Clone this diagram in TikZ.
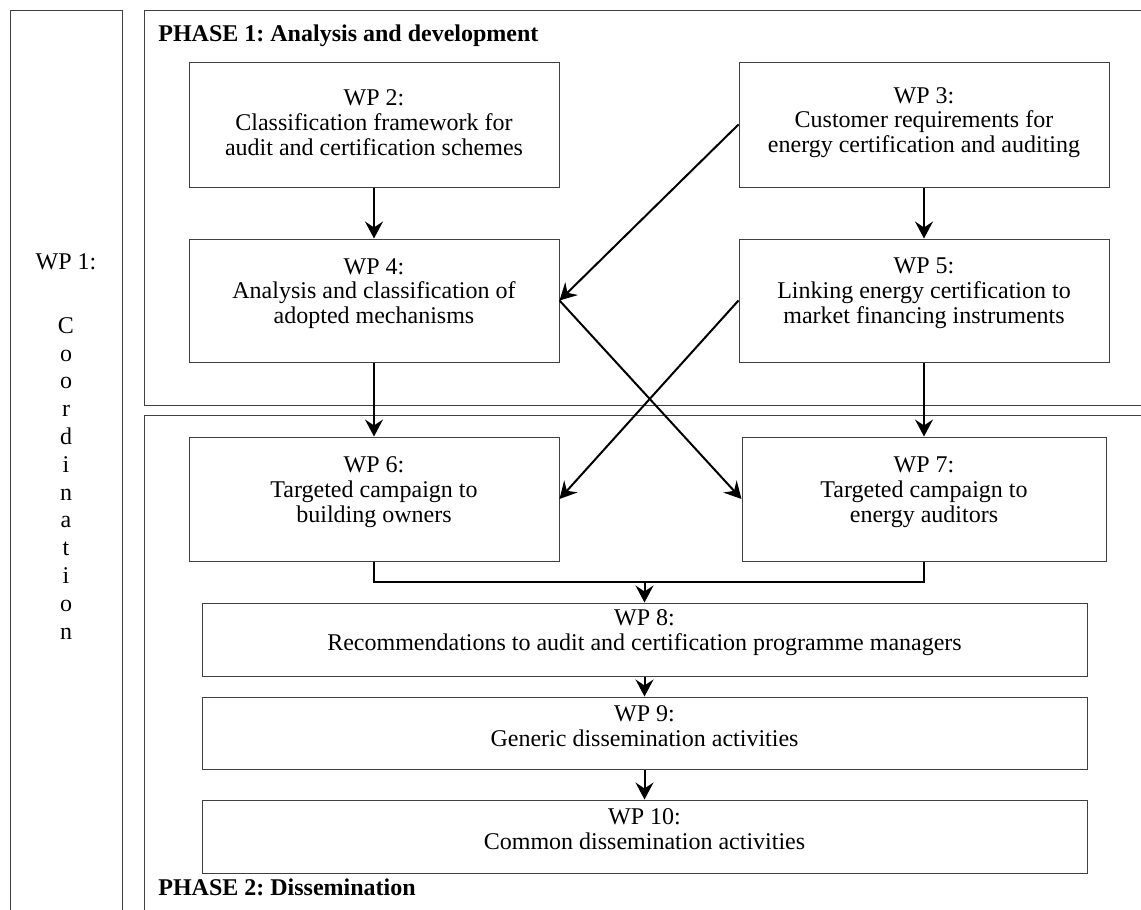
\documentclass[tikz,border=0pt]{standalone}
\usepackage{fontspec}
\setmainfont{Liberation Serif}
\usetikzlibrary{arrows.meta,fit}
\newcommand{\wpfont}{\fontsize{12}{12.4}\selectfont\lineskiplimit=-10pt\relax}
\newcommand{\colfont}{\fontsize{12}{13.9}\selectfont\lineskiplimit=-10pt\relax}
\frenchspacing
\begin{document}
\begin{tikzpicture}[x=0.5pt,y=-0.5pt,
  frame/.style={draw=black!75, line width=0.5pt},
  box/.style={draw=black!75, line width=0.5pt, inner sep=0pt},
  txt/.style={inner sep=0pt, align=center, font=\wpfont, yshift=3.5pt},
  arr/.style={draw=black, line width=1pt, -{Stealth[length=8.5pt,width=9pt,inset=3pt]}},
  link/.style={draw=black, line width=1pt},
  phase/.style={anchor=base west, inner sep=0pt, font=\wpfont\bfseries}]
\useasboundingbox (0,0) rectangle (1141,910);
\clip (0,0) rectangle (1141,910);
\fill[white] (0,0) rectangle (1141,910);
% frames
\draw[frame] (10,930) -- (10,10) -- (122,10) -- (122,930);
\draw[frame] (1160,10) -- (144,10) -- (144,405) -- (1160,405);
\draw[frame] (1160,415) -- (144,415) -- (144,930);
% WP1 column
\node[anchor=base, inner sep=0pt, font=\wpfont] (wp1) at (66,269) {WP 1:};
\node[anchor=north, inner sep=0pt, font=\colfont, align=center] (coord) at (66,317)
  {C\\o\\o\\r\\d\\i\\n\\a\\t\\i\\o\\n};
% phase labels
\node[phase] (p1) at (158,41) {PHASE 1: Analysis and development};
\node[phase] (p2) at (158,895) {PHASE 2: Dissemination};
% boxes
\node[box, fit={(189,62) (559,187)}] (wp2) {};
\node[txt, yshift=-2.5pt] (wp2t) at (wp2.center) {WP 2:\\Classification framework for\\audit and certification schemes};
\node[box, fit={(739,62) (1109,187)}] (wp3) {};
\node[txt, yshift=-2.5pt] (wp3t) at (wp3.center) {WP 3:\\Customer requirements for\\energy certification and auditing};
\node[box, fit={(189,239) (559,362)}] (wp4) {};
\node[txt] (wp4t) at (wp4.center) {WP 4:\\Analysis and classification of\\adopted mechanisms};
\node[box, fit={(739,239) (1109,362)}] (wp5) {};
\node[txt] (wp5t) at (wp5.center) {WP 5:\\Linking energy certification to\\market financing instruments};
\node[box, fit={(189,437) (559,561)}] (wp6) {};
\node[txt] (wp6t) at (wp6.center) {WP 6:\\Targeted campaign to\\building owners};
\node[box, fit={(742,437) (1106,561)}] (wp7) {};
\node[txt] (wp7t) at (wp7.center) {WP 7:\\Targeted campaign to\\energy auditors};
\node[box, fit={(202,603) (1087,676)}] (wp8) {};
\node[txt] (wp8t) at (wp8.center) {WP 8:\\Recommendations to audit and certification programme managers};
\node[box, fit={(202,697) (1087,769)}] (wp9) {};
\node[txt] (wp9t) at (wp9.center) {WP 9:\\Generic dissemination activities};
\node[box, fit={(202,800) (1087,873)}] (wp10) {};
\node[txt] (wp10t) at (wp10.center) {WP 10:\\Common dissemination activities};
% connectors
\draw[arr] (wp2.south) -- (wp4.north);
\draw[arr] (wp3.south) -- (wp5.north);
\draw[arr] (wp3.west) -- (wp4.east);
\draw[arr] (wp4.east) -- (wp7.west);
\draw[arr] (wp5.west) -- (wp6.east);
\draw[arr] (wp4.south) -- (wp6.north);
\draw[arr] (wp5.south) -- (wp7.north);
\coordinate (m) at (644.5,582);
\draw[link] (wp6.south) |- (m) -| (wp7.south);
\draw[arr] (m) -- (wp8.north);
\draw[arr] (wp8.south) -- (wp9.north);
\draw[arr] (wp9.south) -- (wp10.north);
\end{tikzpicture}
\end{document}
